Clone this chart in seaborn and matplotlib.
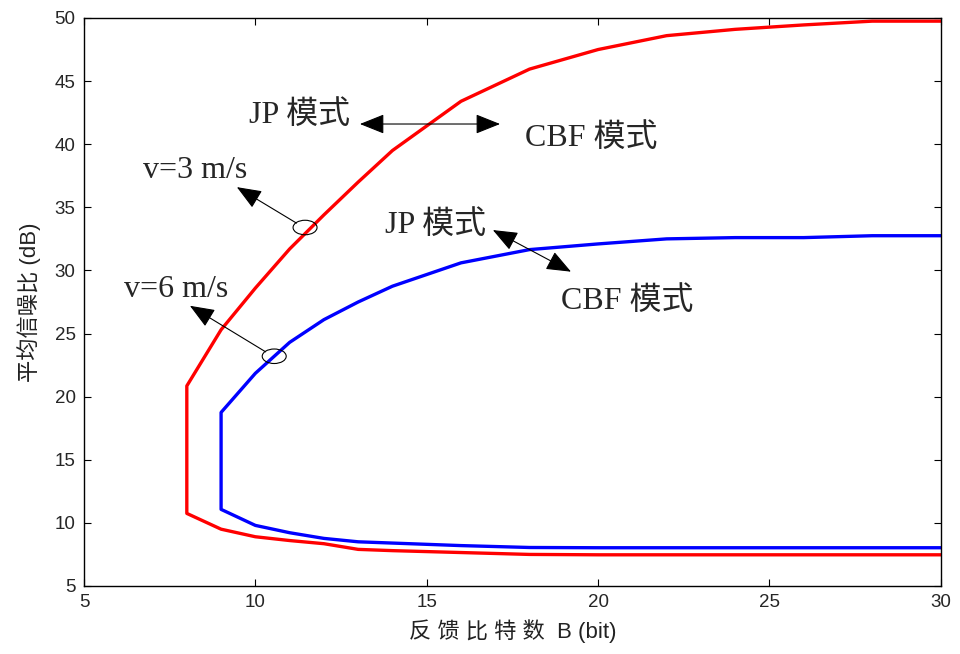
import numpy as np
import pandas as pd
import matplotlib
matplotlib.use("Agg")
import matplotlib.pyplot as plt
import seaborn as sns
from matplotlib.patches import Ellipse

# ---- data ----
b_red_upper = [8, 9, 10, 11, 12, 13, 14, 16, 18, 20, 22, 24, 26, 28, 30]
snr_red_upper = [20.85, 25.3, 28.6, 31.7, 34.4, 37.0, 39.5, 43.4, 45.95, 47.5, 48.6, 49.1, 49.45, 49.75, 49.75]
b_red_lower = [8, 9, 10, 11, 12, 13, 14, 16, 18, 20, 22, 24, 26, 28, 30]
snr_red_lower = [10.75, 9.5, 8.9, 8.6, 8.35, 7.9, 7.8, 7.65, 7.5, 7.47, 7.47, 7.47, 7.47, 7.47, 7.47]

b_blue_upper = [9, 10, 11, 12, 13, 14, 16, 18, 20, 22, 24, 26, 28, 30]
snr_blue_upper = [18.75, 21.85, 24.3, 26.1, 27.5, 28.75, 30.6, 31.65, 32.1, 32.5, 32.6, 32.6, 32.75, 32.75]
b_blue_lower = [9, 10, 11, 12, 13, 14, 16, 18, 20, 22, 24, 26, 28, 30]
snr_blue_lower = [11.07, 9.8, 9.22, 8.77, 8.5, 8.4, 8.2, 8.05, 8.03, 8.03, 8.03, 8.03, 8.03, 8.03]

x_ticks = [5, 10, 15, 20, 25, 30]
y_ticks = [5, 10, 15, 20, 25, 30, 35, 40, 45, 50]


def closed_path(bu, su, bl, sl, name):
    xs = list(bl[::-1]) + list(bu)
    ys = list(sl[::-1]) + list(su)
    return pd.DataFrame({"B": xs, "SNR": ys, "curve": name, "order": range(len(xs))})


df = pd.concat([
    closed_path(b_red_upper, snr_red_upper, b_red_lower, snr_red_lower, "v=3"),
    closed_path(b_blue_upper, snr_blue_upper, b_blue_lower, snr_blue_lower, "v=6"),
], ignore_index=True)

sns.set_style("ticks")
plt.rcParams["font.family"] = ["Liberation Sans", "Noto Sans CJK SC", "DejaVu Sans"]
plt.rcParams["xtick.direction"] = "in"
plt.rcParams["ytick.direction"] = "in"

fig = plt.figure(figsize=(9.6, 6.54), dpi=100)
ax = fig.add_axes([0.0875, 0.104, 0.8925, 0.8685])

sns.lineplot(data=df, x="B", y="SNR", hue="curve", palette={"v=3": "#ff0000", "v=6": "#0000ff"},
             sort=False, estimator=None, linewidth=2.4, legend=False, ax=ax)

ax.set_xlim(5, 30)
ax.set_ylim(5, 50)
ax.set_xticks(x_ticks)
ax.set_yticks(y_ticks)
ax.tick_params(axis="both", which="both", direction="in", top=True, right=True,
               labelsize=13.5, length=5, width=0.8, color="black", pad=6)
for s in ax.spines.values():
    s.set_linewidth(1.0)
    s.set_color("black")

ax.set_xlabel("反 馈 比 特 数  B (bit)", fontsize=16, color="#222222", labelpad=6)
ax.set_ylabel("平均信噪比 (dB)", fontsize=16, color="#222222", labelpad=10)

serif = ["Liberation Serif", "Noto Sans CJK SC"]
fs = 23

ax.text(11.3, 42.3, "JP 模式", fontsize=fs, family=serif, ha="center", va="center")
ax.text(19.8, 40.5, "CBF 模式", fontsize=fs, family=serif, ha="center", va="center")
ax.text(8.24, 37.9, "v=3 m/s", fontsize=fs, family=serif, ha="center", va="center")
ax.text(7.68, 28.5, "v=6 m/s", fontsize=fs, family=serif, ha="center", va="center")
ax.text(15.27, 33.6, "JP 模式", fontsize=fs, family=serif, ha="center", va="center")
ax.text(20.84, 27.6, "CBF 模式", fontsize=fs, family=serif, ha="center", va="center")

head = "head_length=0.7,head_width=0.28"
arrowkw = dict(arrowstyle="<|-|>," + head, color="black", lw=0.8, mutation_scale=22,
               shrinkA=0, shrinkB=0)
single = dict(arrowstyle="-|>," + head, color="black", lw=0.8, mutation_scale=22,
              shrinkA=0, shrinkB=0)

ax.annotate("", xy=(13.05, 41.6), xytext=(17.14, 41.6), arrowprops=arrowkw)
ax.annotate("", xy=(16.93, 33.2), xytext=(19.21, 29.9), arrowprops=arrowkw)
ax.annotate("", xy=(9.46, 36.6), xytext=(11.2, 33.75), arrowprops=single)
ax.annotate("", xy=(8.09, 27.2), xytext=(10.3, 23.55), arrowprops=single)

ax.add_patch(Ellipse((11.45, 33.4), 0.7, 1.15, fill=False, edgecolor="black", lw=0.8, zorder=5))
ax.add_patch(Ellipse((10.55, 23.2), 0.7, 1.15, fill=False, edgecolor="black", lw=0.8, zorder=5))

fig.savefig("out.png", dpi=100)
